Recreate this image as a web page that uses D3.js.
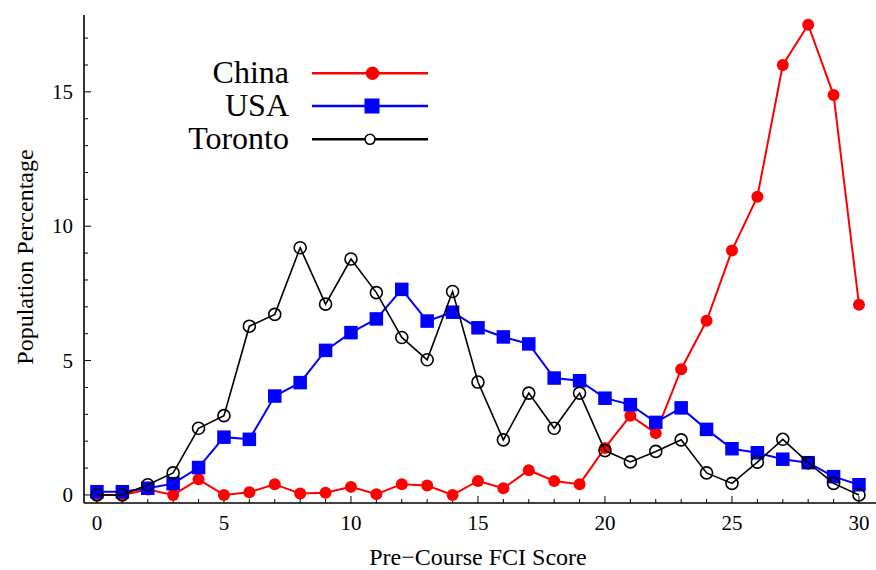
<!DOCTYPE html>
<html>
<head>
<meta charset="utf-8">
<script src="https://cdn.jsdelivr.net/npm/d3@7/dist/d3.min.js"></script>
<style>
  html, body { margin: 0; padding: 0; background: #fff; }
  svg { display: block; }
  text { font-family: "Liberation Serif", "Times New Roman", serif; fill: #000; }
</style>
</head>
<body>
<svg id="chart" width="876" height="570"></svg>
<script>
// Pre-course FCI score distributions (population percentage per score)
const scores = d3.range(0, 31);
const china = [0, 0, 0.2, 0, 0.58, 0, 0.1, 0.4, 0.05, 0.08, 0.3, 0.03, 0.4, 0.35, 0, 0.52,
  0.25, 0.92, 0.52, 0.4, 1.75, 2.95, 2.3, 4.68, 6.48, 9.1, 11.1, 16.0, 17.5, 14.88, 7.08];
const usa = [0.12, 0.12, 0.25, 0.42, 1.02, 2.15, 2.07, 3.68, 4.18, 5.38, 6.04, 6.55, 7.65,
  6.47, 6.8, 6.22, 5.88, 5.62, 4.35, 4.25, 3.6, 3.36, 2.7, 3.24, 2.44, 1.72, 1.57, 1.33, 1.2, 0.68, 0.38];
const toronto = [0, 0, 0.38, 0.82, 2.48, 2.95, 6.28, 6.72, 9.2, 7.1, 8.78, 7.53, 5.86, 5.03,
  7.57, 4.2, 2.05, 3.79, 2.48, 3.79, 1.65, 1.23, 1.62, 2.05, 0.82, 0.43, 1.22, 2.07, 1.2, 0.43, 0];
const seriesNames = ["China", "USA", "Toronto"];
const seriesColors = ["#ff0000", "#0000ff", "#000000"];
const xTickLabels = [0, 5, 10, 15, 20, 25, 30];
const yTickLabels = [0, 5, 10, 15];
const xTitle = "Pre\u2212Course FCI Score";
const yTitle = "Population Percentage";

const svg = d3.select("#chart");

const x = d3.scaleLinear().domain([-0.51, 30.67]).range([84, 876]);
const y = d3.scaleLinear().domain([-0.3, 17.86]).range([503, 15]);

// Axes: inward ticks, minor every unit, labelled every five
const axisG = svg.append("g");
axisG.append("line").attr("x1", x.range()[0]).attr("x2", x.range()[1])
  .attr("y1", y(-0.3)).attr("y2", y(-0.3)).attr("stroke", "#000").attr("stroke-width", 1.6);
axisG.append("line").attr("x1", x(-0.51)).attr("x2", x(-0.51))
  .attr("y1", y.range()[0]).attr("y2", y.range()[1]).attr("stroke", "#000").attr("stroke-width", 1.6);

const xTicks = d3.range(0, 31);
axisG.selectAll(".xt").data(xTicks).join("line")
  .attr("x1", d => x(d)).attr("x2", d => x(d))
  .attr("y1", y(-0.3)).attr("y2", d => y(-0.3) - (d % 5 === 0 ? 7 : 4))
  .attr("stroke", "#000").attr("stroke-width", 1);
axisG.selectAll(".xl").data(xTickLabels).join("text")
  .attr("x", d => x(d)).attr("y", 530)
  .attr("text-anchor", "middle").attr("font-size", 21).text(d => d);

const yTicks = d3.range(0, 18);
axisG.selectAll(".yt").data(yTicks).join("line")
  .attr("x1", x(-0.51)).attr("x2", d => x(-0.51) + (d % 5 === 0 ? 7 : 4))
  .attr("y1", d => y(d)).attr("y2", d => y(d))
  .attr("stroke", "#000").attr("stroke-width", 1);
axisG.selectAll(".yl").data(yTickLabels).join("text")
  .attr("x", 73).attr("y", d => y(d)).attr("dy", "0.34em")
  .attr("text-anchor", "end").attr("font-size", 21).text(d => d);

svg.append("text").attr("x", 478).attr("y", 565).attr("text-anchor", "middle")
  .attr("font-size", 24).text(xTitle);
svg.append("text").attr("transform", "translate(33,257) rotate(-90)")
  .attr("text-anchor", "middle").attr("font-size", 24).text(yTitle);

const line = d3.line().x((d, i) => x(scores[i])).y(d => y(d));

// China: red line with filled circles
svg.append("path").datum(china).attr("d", line).attr("fill", "none")
  .attr("stroke", seriesColors[0]).attr("stroke-width", 2);
svg.append("g").selectAll("circle").data(china).join("circle")
  .attr("cx", (d, i) => x(scores[i])).attr("cy", d => y(d)).attr("r", 6)
  .attr("fill", seriesColors[0]);

// USA: blue line with filled squares
svg.append("path").datum(usa).attr("d", line).attr("fill", "none")
  .attr("stroke", seriesColors[1]).attr("stroke-width", 2);
const sq = 13.5;
svg.append("g").selectAll("rect").data(usa).join("rect")
  .attr("x", (d, i) => x(scores[i]) - sq / 2).attr("y", d => y(d) - sq / 2)
  .attr("width", sq).attr("height", sq).attr("fill", seriesColors[1]);

// Toronto: black line with open circles
svg.append("path").datum(toronto).attr("d", line).attr("fill", "none")
  .attr("stroke", seriesColors[2]).attr("stroke-width", 1.6);
svg.append("g").selectAll("circle").data(toronto).join("circle")
  .attr("cx", (d, i) => x(scores[i])).attr("cy", d => y(d)).attr("r", 6)
  .attr("fill", "none").attr("stroke", seriesColors[2]).attr("stroke-width", 1.6);

// Legend
const legendRows = [73.3, 106, 139.3];
const lg = svg.append("g");
seriesNames.forEach((name, i) => {
  const cy = legendRows[i];
  lg.append("text").attr("x", 289).attr("y", cy + 10).attr("text-anchor", "end")
    .attr("font-size", 32).text(name);
  lg.append("line").attr("x1", 312).attr("x2", 428).attr("y1", cy).attr("y2", cy)
    .attr("stroke", seriesColors[i]).attr("stroke-width", 2.6);
  if (i === 0) {
    lg.append("circle").attr("cx", 372.5).attr("cy", cy).attr("r", 6.7).attr("fill", seriesColors[0]);
  } else if (i === 1) {
    lg.append("rect").attr("x", 372 - 7.5).attr("y", cy - 7.5).attr("width", 15).attr("height", 15)
      .attr("fill", seriesColors[1]);
  } else {
    lg.append("circle").attr("cx", 370).attr("cy", cy).attr("r", 5).attr("fill", "#fff")
      .attr("stroke", "#000").attr("stroke-width", 1.6);
  }
});
</script>
</body>
</html>
